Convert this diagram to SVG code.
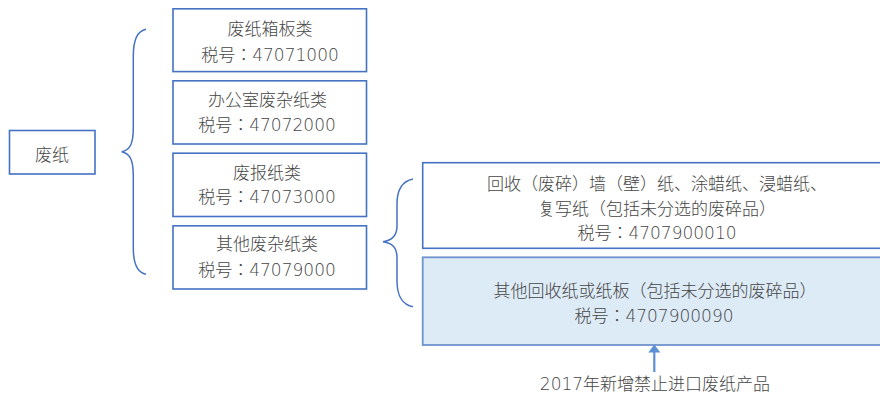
<svg xmlns="http://www.w3.org/2000/svg" width="880" height="397" viewBox="0 0 880 397">
<style>
.box{fill:#ffffff;stroke:#4472C4;stroke-width:1.6}
.hl{fill:#DDEBF7;stroke:#6F93CE;stroke-width:1.8}
.br{fill:none;stroke:#4472C4;stroke-width:1.5}
text{font-family:"DejaVu Sans","Noto Sans CJK JP",sans-serif;font-size:17px;font-weight:300;fill:#454545;text-anchor:middle}
</style>
<rect width="880" height="397" fill="#ffffff"/>
<g id="node-root"><rect class="box" x="9.5" y="130.5" width="85.5" height="43.5"/><text x="52" y="161">废纸</text></g>
<g id="node-4707100"><rect class="box" x="173" y="8.8" width="193.5" height="62.8"/><text x="270" y="35.2">废纸箱板类</text><text x="270" y="60.5">税号：47071000</text></g>
<g id="node-4707200"><rect class="box" x="173" y="80.8" width="193.5" height="63.2"/><text x="267.5" y="106">办公室废杂纸类</text><text x="267" y="131">税号：47072000</text></g>
<g id="node-4707300"><rect class="box" x="173" y="153.2" width="193.5" height="63.3"/><text x="267" y="178.5">废报纸类</text><text x="267" y="203">税号：47073000</text></g>
<g id="node-4707900"><rect class="box" x="173" y="225.8" width="193.5" height="63.2"/><text x="267" y="250">其他废杂纸类</text><text x="267" y="275.5">税号：47079000</text></g>
<g id="node-4707900010"><rect class="box" x="422.7" y="162.7" width="466" height="85.6"/><text x="657" y="190.3">回收（废碎）墙（壁）纸、涂蜡纸、浸蜡纸、</text><text x="657" y="214.5">复写纸（包括未分选的废碎品）</text><text x="657" y="239">税号：4707900010</text></g>
<g id="node-4707900090"><rect class="hl" x="422.7" y="257.3" width="466" height="87.7"/><text x="655" y="296.5">其他回收纸或纸板（包括未分选的废碎品）</text><text x="654" y="321.5">税号：4707900090</text></g>
<g id="note"><text x="655" y="390">2017年新增禁止进口废纸产品</text></g>
<g id="connectors">
<path class="br" d="M146,29.3 C137,31 133.3,40 133.3,56 L133.3,128 C133.3,144 130,150 121.7,151.7 C130,153.5 133.3,160 133.3,176 L133.3,248 C133.3,264 137,272.5 146,274.3"/>
<path class="br" d="M413,179 C403,181 397,189 397,204 L397,226 C397,236 392,240.5 383,241.7 C392,243 397,247 397,258 L397,281 C397,296 403,305 413,306.7"/>
<line x1="654.3" y1="372" x2="654.3" y2="351" stroke="#5B8FD6" stroke-width="2.2"/>
<polygon points="648.3,352.5 660.3,352.5 654.3,344.5" fill="#5B8FD6"/>
</g>
</svg>
